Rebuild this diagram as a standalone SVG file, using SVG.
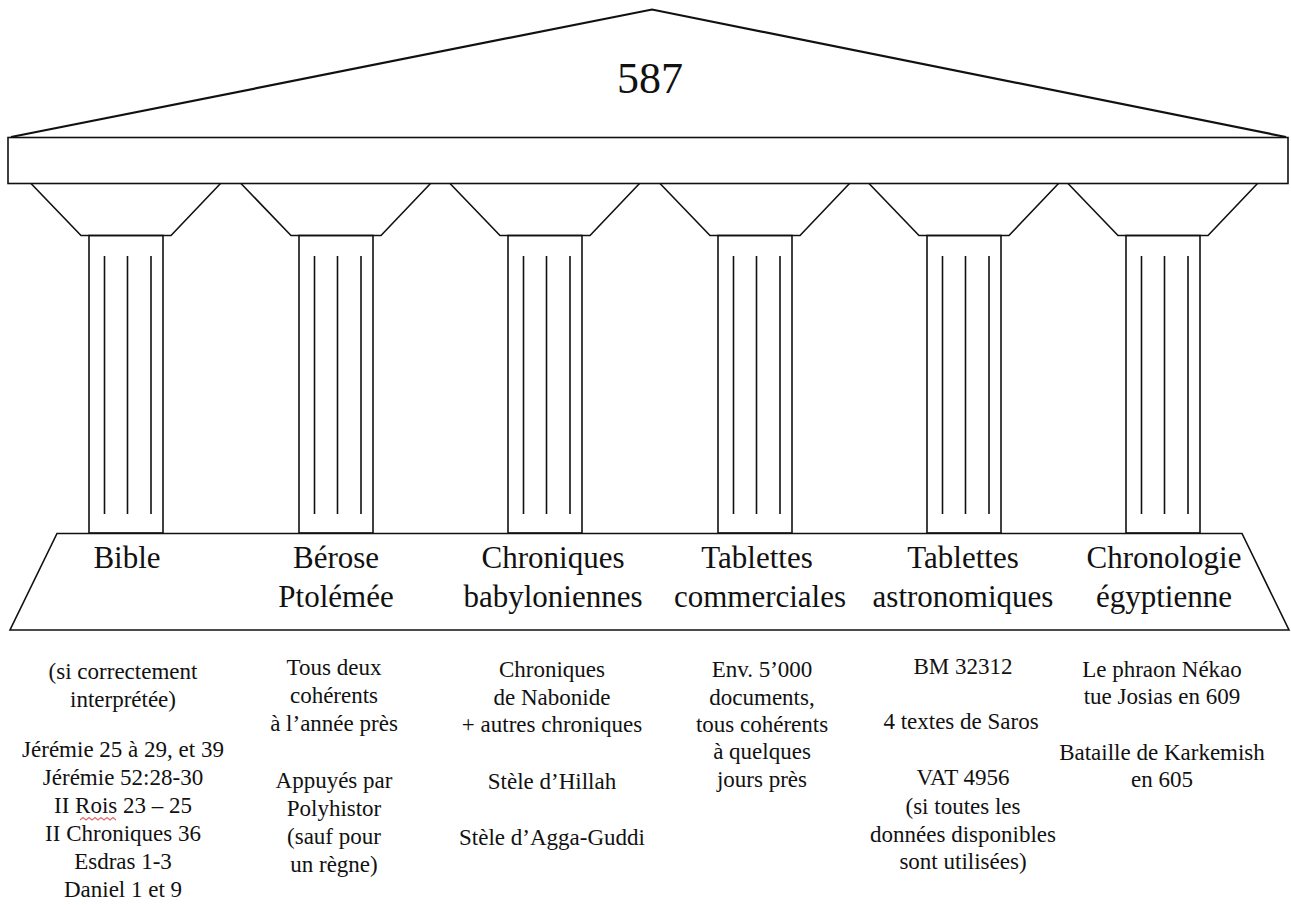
<svg xmlns="http://www.w3.org/2000/svg" xmlns:xlink="http://www.w3.org/1999/xlink" width="1291" height="905" viewBox="0 0 1291 905">
<style>
.ln{fill:none;stroke:#111;stroke-width:1.6;stroke-linejoin:miter}
.roof{fill:none;stroke:#111;stroke-width:2.2}
.fl{stroke:#111;stroke-width:1.6}
.lbl{font-family:"Liberation Serif","Times New Roman",serif;font-size:31px;fill:#111;text-anchor:middle}
.txt{font-family:"Liberation Serif","Times New Roman",serif;font-size:23px;fill:#111;text-anchor:middle}
.title{font-family:"Liberation Serif","Times New Roman",serif;font-size:44px;fill:#111;text-anchor:middle}
</style>
<defs>
<g id="col">
<polyline class="ln" points="-58,183.5 -8,235.5 82,235.5 131.5,183.5"/>
<rect class="ln" x="0" y="235.5" width="74" height="297.5"/>
<line class="fl" x1="15.5" y1="256" x2="15.5" y2="514"/>
<line class="fl" x1="38.5" y1="256" x2="38.5" y2="514"/>
<line class="fl" x1="62" y1="256" x2="62" y2="514"/>
</g>
</defs>
<rect width="1291" height="905" fill="#fff"/>
<g id="roof">
<polyline class="roof" points="11,137 652,9.5 1286,137"/>
<text class="title" x="650" y="93">587</text>
</g>
<g id="entablature">
<rect class="ln" x="8" y="137.5" width="1280" height="46"/>
</g>
<g id="base">
<polygon class="ln" points="57,533.5 1242,533.5 1289,630 10,630"/>
</g>
<g id="col-bible">
<use xlink:href="#col" href="#col" x="89"/>
<text class="lbl" x="127" y="568">Bible</text>
<text class="txt" x="123" y="679">(si correctement</text>
<text class="txt" x="123" y="707">interprétée)</text>
<text class="txt" x="123" y="757">Jérémie 25 à 29, et 39</text>
<text class="txt" x="123" y="785">Jérémie 52:28-30</text>
<text class="txt" x="123" y="813">II Rois 23 – 25</text>
<path d="M80,820 l3,-2.5 l3,2.5 l3,-2.5 l3,2.5 l3,-2.5 l3,2.5 l3,-2.5 l3,2.5 l3,-2.5 l3,2.5 l3,-2.5 l3,2.5" fill="none" stroke="#e06a6a" stroke-width="1.1"/>
<text class="txt" x="123" y="841">II Chroniques 36</text>
<text class="txt" x="123" y="869">Esdras 1-3</text>
<text class="txt" x="123" y="897">Daniel 1 et 9</text>
</g>
<g id="col-berose">
<use xlink:href="#col" href="#col" x="299"/>
<text class="lbl" x="336" y="568">Bérose</text>
<text class="lbl" x="336" y="607">Ptolémée</text>
<text class="txt" x="334" y="675">Tous deux</text>
<text class="txt" x="334" y="703">cohérents</text>
<text class="txt" x="334" y="731">à l’année près</text>
<text class="txt" x="334" y="788">Appuyés par</text>
<text class="txt" x="334" y="816">Polyhistor</text>
<text class="txt" x="334" y="844">(sauf pour</text>
<text class="txt" x="334" y="872">un règne)</text>
</g>
<g id="col-chroniques">
<use xlink:href="#col" href="#col" x="508"/>
<text class="lbl" x="553" y="568">Chroniques</text>
<text class="lbl" x="553" y="607">babyloniennes</text>
<text class="txt" x="552" y="677">Chroniques</text>
<text class="txt" x="552" y="705">de Nabonide</text>
<text class="txt" x="552" y="732">+ autres chroniques</text>
<text class="txt" x="552" y="789">Stèle d’Hillah</text>
<text class="txt" x="552" y="845">Stèle d’Agga-Guddi</text>
</g>
<g id="col-commerciales">
<use xlink:href="#col" href="#col" x="718"/>
<text class="lbl" x="757" y="568">Tablettes</text>
<text class="lbl" x="760" y="607">commerciales</text>
<text class="txt" x="762" y="677">Env. 5’000</text>
<text class="txt" x="762" y="705">documents,</text>
<text class="txt" x="762" y="732">tous cohérents</text>
<text class="txt" x="762" y="759">à quelques</text>
<text class="txt" x="762" y="787">jours près</text>
</g>
<g id="col-astronomiques">
<use xlink:href="#col" href="#col" x="927"/>
<text class="lbl" x="963" y="568">Tablettes</text>
<text class="lbl" x="963" y="607">astronomiques</text>
<text class="txt" x="963" y="674">BM 32312</text>
<text class="txt" x="961" y="729">4 textes de Saros</text>
<text class="txt" x="963" y="785">VAT 4956</text>
<text class="txt" x="963" y="814">(si toutes les</text>
<text class="txt" x="963" y="842">données disponibles</text>
<text class="txt" x="963" y="869">sont utilisées)</text>
</g>
<g id="col-egypte">
<use xlink:href="#col" href="#col" x="1126"/>
<text class="lbl" x="1164" y="568">Chronologie</text>
<text class="lbl" x="1164" y="607">égyptienne</text>
<text class="txt" x="1162" y="677">Le phraon Nékao</text>
<text class="txt" x="1162" y="704">tue Josias en 609</text>
<text class="txt" x="1162" y="760">Bataille de Karkemish</text>
<text class="txt" x="1162" y="787">en 605</text>
</g>
</svg>
